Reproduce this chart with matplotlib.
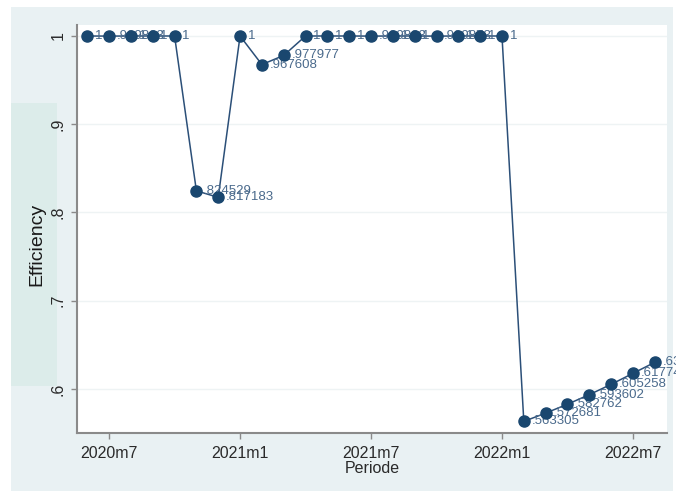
import matplotlib.pyplot as plt
from matplotlib.patches import Rectangle

# monthly efficiency scores, 2020m6 .. 2022m8
periods = ['2020m6', '2020m7', '2020m8', '2020m9', '2020m10', '2020m11', '2020m12',
           '2021m1', '2021m2', '2021m3', '2021m4', '2021m5', '2021m6', '2021m7',
           '2021m8', '2021m9', '2021m10', '2021m11', '2021m12',
           '2022m1', '2022m2', '2022m3', '2022m4', '2022m5', '2022m6', '2022m7', '2022m8']
efficiency = [1, 0.999883, 1, 1, 1, 0.824529, 0.817183,
              1, 0.967608, 0.977977, 1, 1, 1, 0.999883,
              1, 1, 0.999873, 1, 1,
              1, 0.563305, 0.572681, 0.582762, 0.593602, 0.605258, 0.617746, 0.630225]
xtick_labels = ['2020m7', '2021m1', '2021m7', '2022m1', '2022m7']
ytick_values = [0.6, 0.7, 0.8, 0.9, 1.0]
ytick_labels = ['.6', '.7', '.8', '.9', '1']

navy = '#1a476f'
plt.rcParams['font.family'] = ['Liberation Sans', 'DejaVu Sans']

fig = plt.figure(figsize=(6.76, 4.92), dpi=100)
fig.patch.set_facecolor('white')
fig.patches.append(Rectangle((0.0163, 0.002), 0.979, 0.984, transform=fig.transFigure,
                             facecolor='#e9f1f3', edgecolor='none', zorder=-3))
fig.patches.append(Rectangle((0.0163, 0.2154), 0.068, 0.575, transform=fig.transFigure,
                             facecolor='#dcecea', edgecolor='none', zorder=-2))

ax = fig.add_axes([0.1139, 0.1199, 0.8728, 0.8293])
ax.set_facecolor('white')

# month index relative to 2020m7
x = list(range(-1, len(periods) - 1))
ax.plot(x, efficiency, color='#2b4f78', lw=1.1, zorder=2)


def fmt(v):
    return '1' if v == 1 else f'{v:.6f}'.lstrip('0')


for xi, v in zip(x, efficiency):
    ax.annotate(fmt(v), (xi, v), xytext=(5.5, 0), textcoords='offset points',
                ha='left', va='center', fontsize=9.5, color='#4a6a8c',
                zorder=3, annotation_clip=False)
ax.plot(x, efficiency, ls='none', marker='o', ms=8, color=navy, zorder=4)

ax.set_xlim(-1.47, 25.56)
ax.set_ylim(0.55014, 1.01246)
ax.set_xticks([tick * 6 for tick in range(len(xtick_labels))])
ax.set_xticklabels(xtick_labels)
ax.set_yticks(ytick_values)
ax.set_yticklabels(ytick_labels, rotation=90, va='center')
ax.yaxis.grid(True, color='#eef3f4', lw=1.0)
ax.set_axisbelow(True)

for side in ['top', 'right']:
    ax.spines[side].set_visible(False)
for side in ['left', 'bottom']:
    ax.spines[side].set_color('#8a8a8a')
    ax.spines[side].set_linewidth(1.5)
ax.tick_params(axis='both', colors='#8a8a8a', length=4, width=1.0, labelcolor='#2a2a2a',
               labelsize=11.5)
ax.tick_params(axis='x', pad=5)
ax.tick_params(axis='y', pad=4)

ax.set_xlabel('Periode', fontsize=11.5, color='#2a2a2a', labelpad=0)
fig.text(0.0547, 0.504, 'Efficiency', rotation=90, ha='center', va='center',
         fontsize=14, color='#1a1a1a')

fig.savefig('out.png', dpi=100)
